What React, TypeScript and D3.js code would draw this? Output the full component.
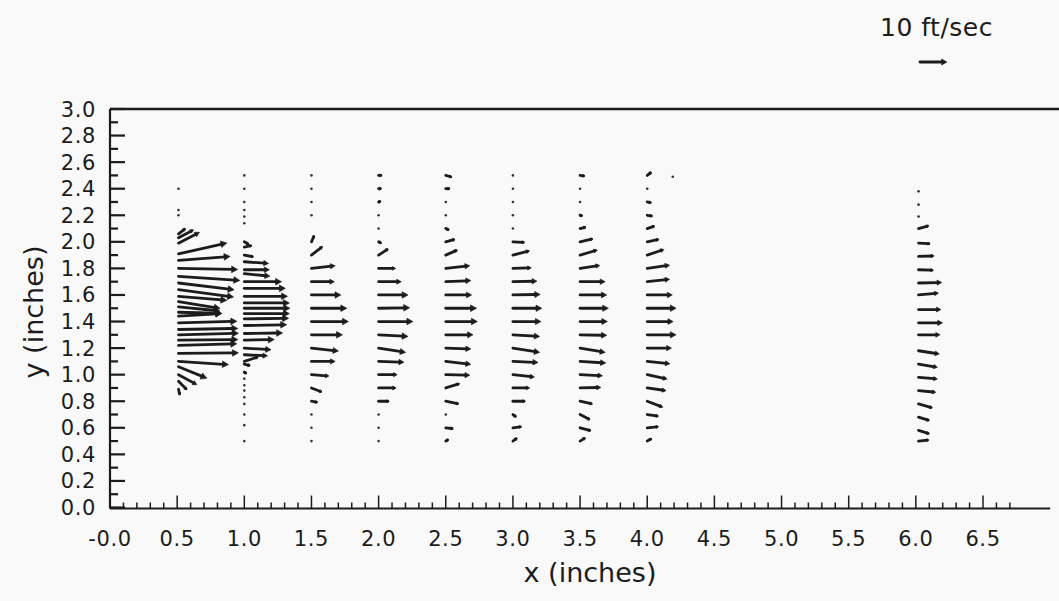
import React from "react";
import * as d3 from "d3";

// velocity profiles, one per measuring station: [y (in), u (ft/s), v (ft/s)]
const st050 = [
  [2.4, 0, 0], [2.24, 0, 0], [2.2, 0, 0],
  [2.06, 2.5, 1.9], [2.03, 5.6, 3.0], [1.99, 7.8, 4.0], [1.91, 17.9, 4.0],
  [1.86, 19.1, 1.5], [1.8, 21.9, -0.4], [1.74, 22.7, -1.5], [1.69, 20.6, -2.5],
  [1.64, 20.4, -2.7], [1.59, 17.9, -1.5], [1.55, 15.4, -2.5], [1.51, 15.4, -1.5],
  [1.47, 16.0, -0.4], [1.44, 16.0, 1.0], [1.39, 21.6, 0.6], [1.34, 22.0, 0.4],
  [1.3, 22.2, 0.6], [1.26, 22.0, 0.2], [1.22, 21.6, 0.6], [1.16, 22.2, 0.2],
  [1.1, 18.5, -1.2], [1.06, 10.5, -4.3], [1.0, 6.8, -3.7], [0.95, 3.1, -3.1],
  [0.89, 0.5, -2.1],
];
const st100 = [
  [2.5, 0, 0], [2.4, 0, 0], [2.3, 0, 0], [2.24, 0, 0], [2.19, 0, 0], [2.14, 0, 0],
  [2.0, 1.6, -0.9], [1.96, 2.7, 0.6], [1.9, 3.3, -0.6], [1.85, 9.0, -0.6],
  [1.79, 9.3, 0], [1.76, 9.5, -0.9], [1.7, 13.8, 0], [1.65, 15.2, 0],
  [1.59, 16.0, 0], [1.54, 16.7, 0], [1.5, 16.9, 0], [1.46, 16.7, 0],
  [1.42, 16.4, 0.2], [1.37, 15.7, 0.3], [1.31, 14.2, 0.2], [1.26, 11.1, 0.2],
  [1.2, 9.9, -0.6], [1.15, 8.6, -0.4], [1.1, 5.3, 1.7], [1.08, 2.1, -0.6],
  [1.02, 0.8, -0.6], [0.97, 0.4, -0.4], [0.92, 0, 0], [0.88, 0, 0], [0.83, 0, 0],
  [0.78, 0, 0], [0.7, 0, 0], [0.62, 0, 0], [0.5, 0, 0],
];
const st150 = [
  [2.5, 0, 0], [2.4, 0, 0], [2.3, 0.4, 0.4], [2.2, 0, 0], [2.0, 1.0, 2.3],
  [1.9, 4.1, 3.2], [1.8, 8.8, 1.0], [1.7, 8.5, 0], [1.6, 10.9, 0], [1.5, 13.1, 0],
  [1.4, 13.7, 0], [1.3, 11.5, 0], [1.2, 10.0, -1.1], [1.1, 8.8, 0], [1.0, 6.5, -0.5],
  [0.9, 3.8, -1.5], [0.8, 2.2, -0.4], [0.7, 0, 0], [0.6, 0, 0], [0.5, 0, 0],
];
const st200 = [
  [2.5, 1.2, 0], [2.4, 1.0, 0], [2.3, 0.8, 0.3], [2.2, 0, 0], [2.1, 0, 0],
  [2.0, 1.0, -0.5], [1.9, 3.5, 2.3], [1.8, 6.3, 0], [1.7, 8.4, 0], [1.6, 10.9, 0],
  [1.5, 11.5, 0.2], [1.4, 12.7, 0], [1.3, 10.9, -0.6], [1.2, 10.0, -1.6],
  [1.1, 9.4, -0.3], [1.0, 6.9, 0], [0.9, 6.5, 0], [0.8, 3.8, 0], [0.7, 0, 0],
  [0.6, 0, 0], [0.5, 0.5, 0.4],
];
const st250 = [
  [2.5, 2.2, -0.6], [2.4, 1.5, 0], [2.3, 0, 0], [2.2, 0, 0], [2.1, 1.2, -0.5],
  [2.0, 3.3, 0.9], [1.9, 4.3, 1.9], [1.8, 8.9, 1.0], [1.7, 9.3, 0.4], [1.6, 9.6, 0],
  [1.5, 11.4, 0], [1.4, 11.7, 0], [1.3, 10.1, 0], [1.2, 9.3, -0.3], [1.1, 9.3, -1.1],
  [1.0, 8.9, -0.2], [0.9, 5.2, 1.6], [0.8, 4.9, -1.0], [0.7, 0.5, 0],
  [0.6, 2.7, -0.3], [0.5, 1.0, 0.6],
];
const st300 = [
  [2.5, 0, 0], [2.4, 0, 0], [2.3, 0, 0], [2.2, 0, 0], [2.1, 0, 0],
  [2.0, 4.3, -0.2], [1.9, 6.2, 1.6], [1.8, 6.8, 0.2], [1.7, 8.9, 0.2], [1.6, 10.1, 0.2],
  [1.5, 10.7, 0], [1.4, 10.4, 0], [1.3, 9.9, -0.6], [1.2, 9.9, -1.6], [1.1, 9.3, -0.4],
  [1.0, 8.0, -0.9], [0.9, 6.2, 0], [0.8, 4.6, 0], [0.7, 1.2, -0.9], [0.6, 3.1, 0.4],
  [0.5, 1.5, 1.1],
];
const st350 = [
  [2.5, 1.7, -0.2], [2.4, 0, 0], [2.3, 0, 0], [2.2, 0.9, -0.2], [2.1, 2.1, 0.5],
  [2.0, 4.8, 1.1], [1.9, 6.4, 1.9], [1.8, 7.3, 1.1], [1.7, 9.3, 0], [1.6, 9.9, 0],
  [1.5, 10.5, 0], [1.4, 10.1, 0], [1.3, 9.9, -0.2], [1.2, 9.3, -1.6], [1.1, 9.5, -0.6],
  [1.0, 8.3, -0.4], [0.9, 7.7, 0.2], [0.8, 4.6, -1.0], [0.7, 3.6, -1.9],
  [0.6, 4.0, -1.1], [0.5, 1.9, 1.2],
];
const st400 = [
  [2.5, 1.5, 1.2], [2.4, 0, 0], [2.3, 1.5, -0.3], [2.2, 1.9, -0.3], [2.1, 2.7, 0.9],
  [2.0, 4.3, 0.9], [1.9, 6.2, 2.1], [1.8, 8.3, 1.2], [1.7, 8.3, 0.9], [1.6, 9.3, 0],
  [1.5, 10.7, 0], [1.4, 9.6, 0], [1.3, 10.7, 0], [1.2, 9.0, 0], [1.1, 8.4, -0.9],
  [1.0, 7.4, -1.6], [0.9, 7.0, -1.0], [0.8, 5.8, -2.2], [0.7, 4.1, -0.6],
  [0.6, 4.1, 0.4], [0.5, 1.6, 0.9],
];
const st419 = [[2.49, 0, 0]];
const st602 = [
  [2.38, 0, 0], [2.28, 0, 0], [2.19, 0.6, 0.2], [2.1, 3.7, 1.0], [1.99, 4.3, -0.2],
  [1.89, 5.8, 0.2], [1.79, 5.6, -0.2], [1.69, 8.6, 0.2], [1.6, 7.4, 0.7], [1.49, 8.3, 0],
  [1.39, 8.9, 0], [1.3, 8.0, 0], [1.18, 7.7, -1.2], [1.08, 7.0, -1.2], [0.98, 7.0, -0.6],
  [0.88, 6.4, -0.6], [0.78, 5.2, -1.5], [0.68, 4.0, -1.2], [0.58, 4.0, -1.2],
  [0.5, 3.7, 0.4],
];

const stationX = [0.51, 1.0, 1.5, 2.0, 2.5, 3.0, 3.5, 4.0, 4.19, 6.02];
const profiles = [st050, st100, st150, st200, st250, st300, st350, st400, st419, st602];

const xTickLabels = ["-0.0", "0.5", "1.0", "1.5", "2.0", "2.5", "3.0", "3.5", "4.0", "4.5", "5.0", "5.5", "6.0", "6.5"];
const yTickLabels = ["0.0", "0.2", "0.4", "0.6", "0.8", "1.0", "1.2", "1.4", "1.6", "1.8", "2.0", "2.2", "2.4", "2.6", "2.8", "3.0"];
const refSpeed = 10;

const W = 1059, H = 601;
const ink = "#1c1c1c";
const font = "'DejaVu Sans', sans-serif";

const xScale = d3.scaleLinear().domain([0, 6.5]).range([110, 983]);
const yScale = d3.scaleLinear().domain([0, 3]).range([507.5, 109]);
const speed = d3.scaleLinear().domain([0, 10]).range([0, 27]);

function Arrow({ x0, y0, dx, dy }: { x0: number; y0: number; dx: number; dy: number }) {
  const len = Math.hypot(dx, dy);
  if (len < 2) return <circle cx={x0} cy={y0} r={1.3} fill="#333" />;
  const ux = dx / len, uy = dy / len;
  const hl = Math.min(6, Math.max(2, len * 0.2));
  const hw = Math.max(1.6, hl * 0.55);
  const tx = x0 + dx, ty = y0 + dy;
  const bx = tx - ux * hl, by = ty - uy * hl;
  const pts = [
    [tx, ty],
    [bx - uy * hw, by + ux * hw],
    [bx + uy * hw, by - ux * hw],
  ];
  return (
    <g>
      <line x1={x0} y1={y0} x2={bx + ux} y2={by + uy} stroke={ink} strokeWidth={2.8} strokeLinecap="round" />
      <polygon points={pts.map(p => p.join(",")).join(" ")} fill={ink} stroke={ink} strokeWidth={0.6} strokeLinejoin="round" />
    </g>
  );
}

export default function App() {
  const xMinor = d3.range(0, 68).map(i => i / 10);
  const yMinor = d3.range(0, 31).map(i => i / 10);

  return (
    <svg width={W} height={H} style={{ position: "absolute", left: 0, top: 0 }} fontFamily={font}>
      <rect width={W} height={H} fill="#f9f9f9" />

      {/* frame */}
      <line x1={xScale(0)} y1={yScale(3)} x2={W} y2={yScale(3)} stroke={ink} strokeWidth={2.6} />
      <line x1={xScale(0)} y1={yScale(0) + 1} x2={xScale(0)} y2={yScale(3)} stroke={ink} strokeWidth={2.2} />
      <line x1={xScale(0)} y1={yScale(0) + 1} x2={xScale(7.0)} y2={yScale(0) + 1} stroke={ink} strokeWidth={2.2} />

      {/* y ticks */}
      {yMinor.map((v, i) => (
        <line key={"yt" + i} x1={xScale(0)} x2={xScale(0) + (i % 2 === 0 ? 15 : 8)}
          y1={yScale(v)} y2={yScale(v)} stroke={ink} strokeWidth={2.2} />
      ))}
      {yTickLabels.map((t, i) => (
        <text key={"yl" + i} x={96} y={yScale(i * 0.2) + 7.5} textAnchor="end" fontSize={21} letterSpacing={0.6} fill={ink}>{t}</text>
      ))}

      {/* x ticks */}
      {xMinor.map((v, i) => (
        <line key={"xt" + i} x1={xScale(v)} x2={xScale(v)} y1={yScale(0) + 1}
          y2={yScale(0) + 1 - (i % 5 === 0 ? 13 : 6)} stroke={ink} strokeWidth={1.5} />
      ))}
      {xTickLabels.map((t, i) => (
        <text key={"xl" + i} x={xScale(i * 0.5)} y={546} textAnchor="middle" fontSize={21} letterSpacing={0.6} fill={ink}>{t}</text>
      ))}

      {/* axis titles */}
      <text x={590} y={582} textAnchor="middle" fontSize={27} fill={ink}>x (inches)</text>
      <text transform={`translate(43,312) rotate(-90)`} textAnchor="middle" fontSize={27} fill={ink}>y (inches)</text>

      {/* vectors */}
      {profiles.map((prof, s) => (
        <g key={"st" + s}>
          {prof.map(([y, u, v], j) => (
            <Arrow key={j} x0={xScale(stationX[s])} y0={yScale(y)} dx={speed(u)} dy={-speed(v)} />
          ))}
        </g>
      ))}

      {/* reference vector */}
      <text x={880} y={36} fontSize={25} letterSpacing={0.5} fill={ink}>10 ft/sec</text>
      <Arrow x0={920} y0={62} dx={speed(refSpeed)} dy={0} />
    </svg>
  );
}
